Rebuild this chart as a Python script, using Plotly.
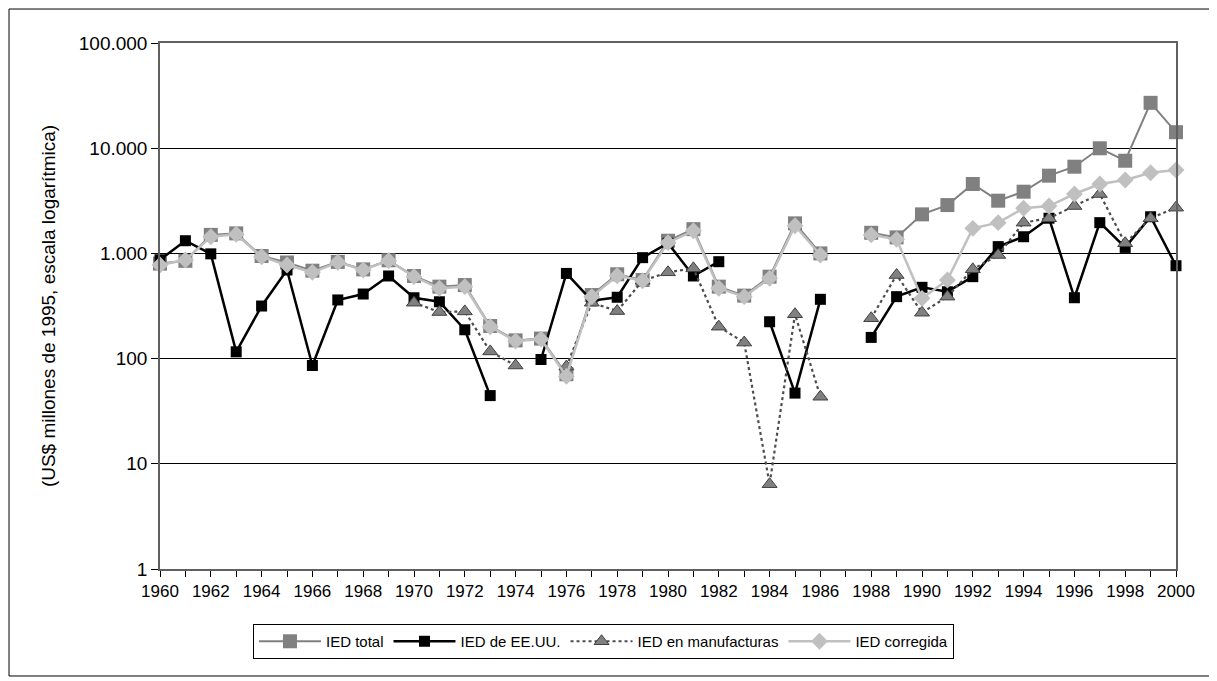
import plotly.graph_objects as go

years = list(range(1960, 2001))

ied_total = [800, 850, 1500, 1550, 945, 820, 685, 830, 705, 860,
             610, 483, 500, 204, 149, 155, 71, 402, 633, 559,
             1320, 1700, 483, 397, 601, 1930, 1000, None, 1570, 1420,
             2350, 2880, 4570, 3170, 3860, 5480, 6670, 9980, 7600, 27000,
             14200]

ied_eeuu = [870, 1320, 990, 116, 316, 695, 86, 361, 411, 610,
            379, 347, 188, 44.5, None, 98, 645, 355, 383, 911,
            1250, 610, 834, None, 224, 47, 366, None, 159, 388,
            476, 432, 601, 1160, 1440, 2160, 379, 1960, 1140, 2230,
            764]

ied_manuf = [None, None, None, None, None, None, None, None, None, None,
             340, 277, 281, 117, 86, None, 84, 340, 283, 550,
             661, 721, 201, 142, 6.4, 264, 43.4, None, 242, 623,
             273, 388, 706, 966, 1960, 2160, 2820, 3670, 1250, 2160,
             2720]

ied_corregida = [776, 865, 1440, 1520, 930, 776, 661, 823, 695, 853,
                 601, 466, 483, 201, 147, 153, 68, 388, 614, 550,
                 1265, 1640, 466, 388, 580, 1830, 966, None, 1500, 1360,
                 374, 559, 1730, 1960, 2690, 2820, 3670, 4570, 4990, 5850,
                 6200]

y_tickvals = [1, 10, 100, 1000, 10000, 100000]
y_ticktext = ["1", "10", "100", "1.000", "10.000", "100.000"]

FONT = "Liberation Sans, Arial, sans-serif"

fig = go.Figure()

fig.add_trace(go.Scatter(
    x=years, y=ied_total, name="IED total", mode="lines+markers",
    line=dict(color="#808080", width=2),
    marker=dict(symbol="square", size=14, color="#808080"),
    connectgaps=False, cliponaxis=False))

fig.add_trace(go.Scatter(
    x=years, y=ied_eeuu, name="IED de EE.UU.", mode="lines+markers",
    line=dict(color="#000000", width=2.5),
    marker=dict(symbol="square", size=11, color="#000000"),
    connectgaps=False, cliponaxis=False))

fig.add_trace(go.Scatter(
    x=years, y=ied_manuf, name="IED en manufacturas", mode="lines+markers",
    line=dict(color="#4d4d4d", width=2.2, dash="dot"),
    marker=dict(symbol="triangle-up", size=13, color="#808080",
                line=dict(color="#404040", width=1)),
    connectgaps=False, cliponaxis=False))

fig.add_trace(go.Scatter(
    x=years, y=ied_corregida, name="IED corregida", mode="lines+markers",
    line=dict(color="#c0c0c0", width=2.5),
    marker=dict(symbol="diamond", size=13, color="#c0c0c0"),
    connectgaps=False, cliponaxis=False))

fig.update_layout(
    width=1209, height=673,
    margin=dict(l=152, r=41, t=35, b=112),
    paper_bgcolor="white", plot_bgcolor="white",
    font=dict(family=FONT, size=15, color="#000000"),
    showlegend=True,
    legend=dict(
        orientation="h", x=0.0915, xanchor="left", y=-0.1046, yanchor="top",
        bordercolor="#000000", borderwidth=1, bgcolor="white",
        font=dict(family=FONT, size=15), itemwidth=62,
        traceorder="normal"),
    shapes=[dict(type="rect", xref="paper", yref="paper",
                 x0=-0.1486, x1=1.0344, y0=-0.2034, y1=1.0646,
                 line=dict(color="#000000", width=1), fillcolor="rgba(0,0,0,0)",
                 layer="below")],
)

fig.update_xaxes(
    range=[1960, 2000], dtick=2, tick0=1960,
    ticks="outside", ticklen=6, tickcolor="#000000",
    minor=dict(dtick=1, ticks="outside", ticklen=6, tickcolor="#000000"),
    showgrid=False, zeroline=False,
    showline=True, linecolor="#606060", linewidth=1.5, mirror=True,
    tickfont=dict(family=FONT, size=17))

fig.update_yaxes(
    type="log", range=[0, 5],
    tickvals=y_tickvals, ticktext=y_ticktext,
    ticks="outside", ticklen=7, tickcolor="#000000",
    showgrid=True, gridcolor="#000000", gridwidth=1,
    zeroline=False,
    showline=True, linecolor="#606060", linewidth=1.5, mirror=True,
    tickfont=dict(family=FONT, size=19),
    title=dict(text="(US$ millones de 1995, escala logarítmica)",
               font=dict(family=FONT, size=19), standoff=18))

fig.write_html("out.html")
